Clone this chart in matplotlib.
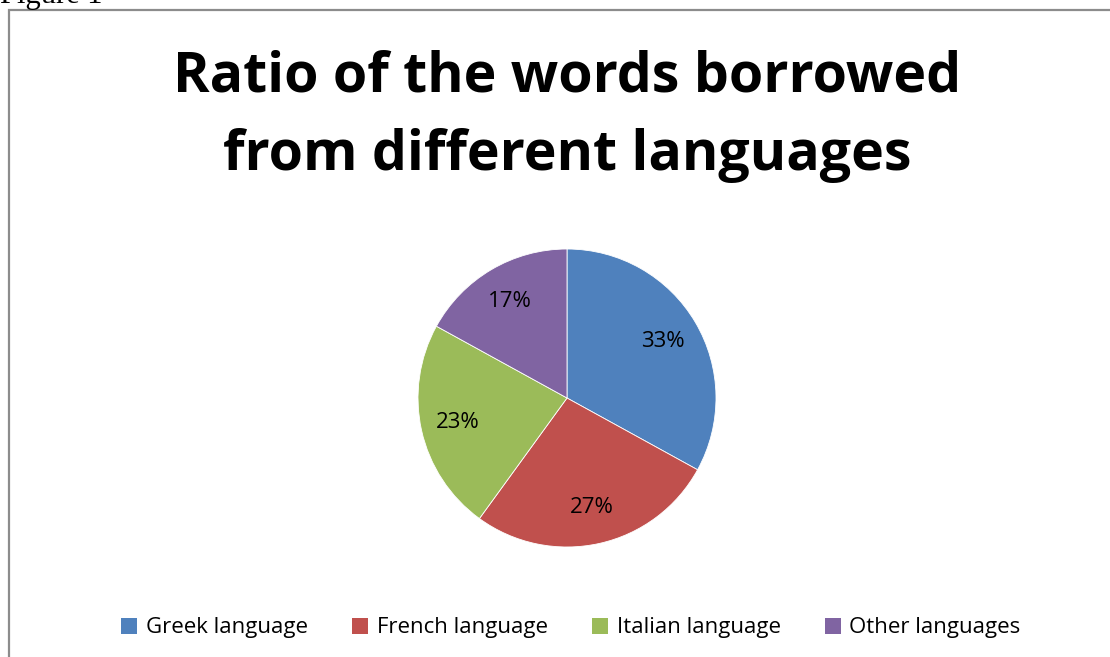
import matplotlib
matplotlib.use('Agg')
import matplotlib.pyplot as plt
from matplotlib.patches import Patch, Rectangle

# word-origin shares (percent)
languages = ["Greek language", "French language", "Italian language", "Other languages"]
shares = [33, 27, 23, 17]
colors = ['#4F81BD', '#C0504D', '#9BBB59', '#8064A2']

W, H = 1110, 657
fig = plt.figure(figsize=(W / 100, H / 100), dpi=100)

# chart frame (runs off the right and bottom edges)
fig.add_artist(Rectangle((9 / W, -0.2), 1.2, 1.2 - 10 / H,
                         transform=fig.transFigure, fill=False,
                         edgecolor='#8c8c8c', linewidth=1.6))

# caption above the frame, mostly cut off
fig.text(0.0, 1 - 3 / H, "Figure 1", family='Liberation Serif',
         fontsize=22, ha='left', va='baseline')

fig.text(567 / W, 1 - 116 / H, "Ratio of the words borrowed\nfrom different languages",
         family='Open Sans', fontweight='bold', fontsize=40,
         ha='center', va='center', linespacing=1.56)

cx, cy, r = 567, 398, 149
ax = fig.add_axes([(cx - r) / W, (H - cy - r) / H, 2 * r / W, 2 * r / H])
wedges, texts, autotexts = ax.pie(
    shares, colors=colors, startangle=90, counterclock=False,
    autopct='%d%%', pctdistance=0.75,
    wedgeprops=dict(edgecolor='white', linewidth=0.6),
    textprops=dict(family='Open Sans', fontsize=16, color='black'))
ax.set_xlim(-1, 1)
ax.set_ylim(-1, 1)
ax.set_aspect('equal')

handles = [Patch(facecolor=c, edgecolor='none') for c in colors]
fig.legend(handles, languages, loc='center', bbox_to_anchor=(571 / W, 1 - 628 / H),
           ncol=4, frameon=False, handlelength=0.7, handleheight=0.7,
           handletextpad=0.4, columnspacing=2.0,
           prop=dict(family='Open Sans', size=16))

fig.savefig("out.png", dpi=100)
plt.close(fig)
